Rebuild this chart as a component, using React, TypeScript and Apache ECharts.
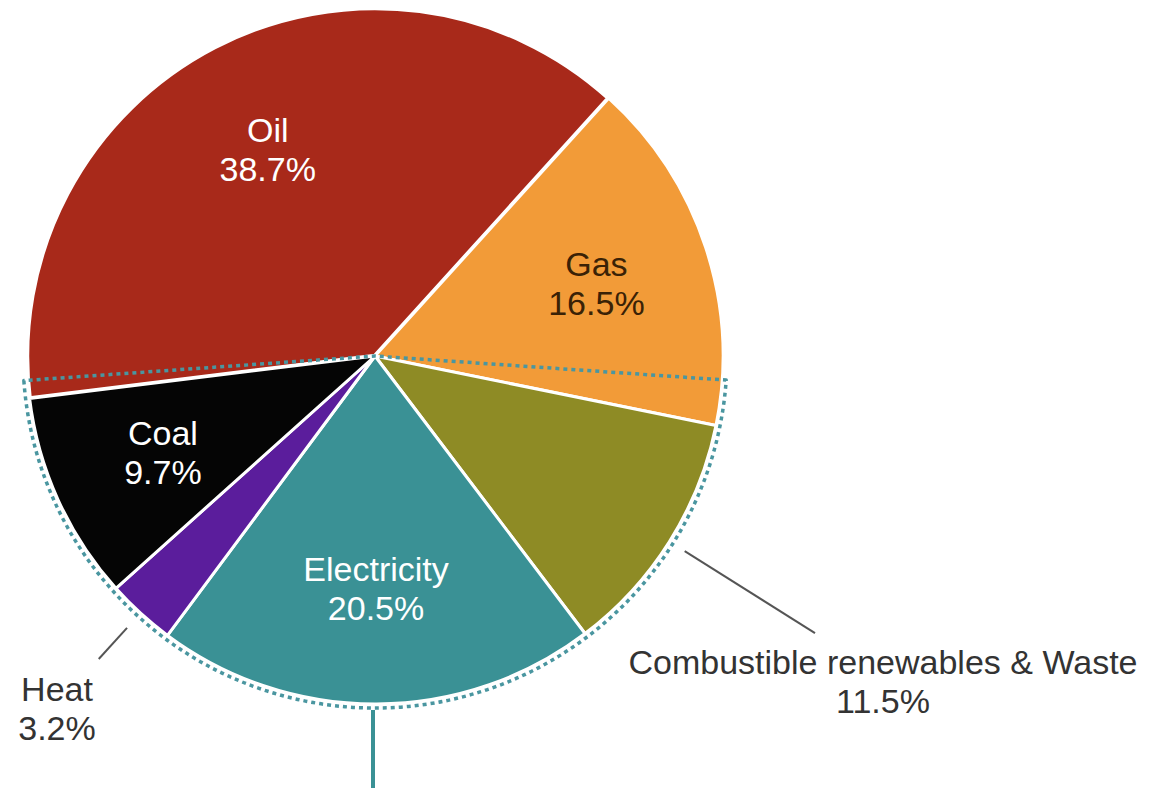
import React, { useEffect, useRef } from 'react';
import * as echarts from 'echarts';

// ---- data ----
const categories = ['Oil', 'Gas', 'Combustible renewables & Waste', 'Electricity', 'Heat', 'Coal'];
const shares = [38.7, 16.5, 11.5, 20.5, 3.2, 9.7];
const sliceColors = ['#A8291A', '#F29B38', '#8E8B25', '#3A9195', '#5B1D9C', '#050505'];
const labelColors = ['#ffffff', '#3a2206', '#333333', '#ffffff', '#333333', '#ffffff'];
const labelInside = [true, true, false, true, false, true];
// dashed outline region (share of the full circle) and the rest
const outlineShares = [47.8, 52.2];

// ---- layout ----
const CX = 375;
const CY = 356;
const R = 348;
const START = 187;
const OUTLINE_START = 184;
const FONT = '"Liberation Sans", Arial, Helvetica, sans-serif';

const total = shares.reduce((a, b) => a + b, 0);
function midAngle(i: number) {
  let cum = 0;
  for (let j = 0; j < i; j++) cum += shares[j];
  return START - ((cum + shares[i] / 2) / total) * 360;
}
function polar(angleDeg: number, r: number): [number, number] {
  const a = (angleDeg * Math.PI) / 180;
  return [CX + r * Math.cos(a), CY - r * Math.sin(a)];
}

// outside label placement (line radii and text anchor)
const outsideLabels: Record<number, { from: number; to: number; x: number; y: number }> = {
  2: { from: R + 18, to: R + 172, x: 883, y: 681 },
  4: { from: R + 20, to: R + 62, x: 57, y: 708 },
};

export default function App() {
  const ref = useRef<HTMLDivElement>(null);
  useEffect(() => {
    if (!ref.current) return;
    const chart = echarts.init(ref.current, null, { renderer: 'svg' });
    const labelText = {
      fontFamily: FONT,
      fontSize: 34,
      lineHeight: 39,
    };
    chart.setOption({
      animation: false,
      backgroundColor: '#ffffff',
      series: [
        {
          type: 'pie',
          z: 2,
          center: [CX, CY],
          radius: [0, R],
          startAngle: START,
          clockwise: true,
          avoidLabelOverlap: false,
          silent: true,
          itemStyle: { borderColor: '#ffffff', borderWidth: 3 },
          labelLine: { show: true, lineStyle: { color: '#555555', width: 2 }, length: 20, length2: 0 },
          data: categories.map((name, i) => ({
            name,
            value: shares[i],
            itemStyle: { color: sliceColors[i], borderWidth: i === 0 ? 4.5 : 3 },
            label: {
              show: !labelInside[i],
              position: 'outside',
              formatter: '{b}\n{c}%',
              color: labelColors[i],
              align: 'center',
              ...labelText,
            },
            labelLine: { show: !labelInside[i] },
          })),
          labelLayout: (p: any) => {
            const cfg = outsideLabels[p.dataIndex];
            if (!cfg) return {};
            const m = midAngle(p.dataIndex);
            const a = polar(m, cfg.from);
            const b = polar(m, cfg.to);
            return {
              x: cfg.x,
              y: cfg.y,
              align: 'center',
              verticalAlign: 'middle',
              labelLinePoints: [a, b, b],
            };
          },
        },
        {
          type: 'pie',
          z: 3,
          center: [CX, CY],
          radius: [0, R + 4],
          startAngle: OUTLINE_START,
          clockwise: false,
          silent: true,
          label: { show: false },
          labelLine: { show: false },
          data: outlineShares.map((v, i) => ({
            value: v,
            name: i === 0 ? 'outline' : 'rest',
            itemStyle:
              i === 0
                ? { color: 'none', borderColor: '#4a96a0', borderWidth: 3.5, borderType: [4, 4] }
                : { color: 'none', borderWidth: 0 },
          })),
        },
        {
          type: 'pie',
          z: 4,
          center: [CX, CY],
          radius: [0, 460],
          startAngle: START,
          clockwise: true,
          silent: true,
          avoidLabelOverlap: false,
          itemStyle: { color: 'transparent', borderWidth: 0 },
          labelLine: { show: false },
          data: categories.map((name, i) => ({
            name,
            value: shares[i],
            label: {
              show: labelInside[i],
              position: 'inside',
              formatter: '{b}\n{c}%',
              color: labelColors[i],
              align: 'center',
              ...labelText,
            },
          })),
        },
      ],
      graphic: [
        {
          type: 'line',
          z: 10,
          shape: { x1: CX - 2, y1: CY + R + 6, x2: CX - 2, y2: 800 },
          style: { stroke: '#3A9195', lineWidth: 4 },
        },
      ],
    });
    return () => chart.dispose();
  }, []);
  return (
    <div
      ref={ref}
      style={{ position: 'fixed', left: 0, top: 0, width: 1161, height: 788 }}
    />
  );
}
